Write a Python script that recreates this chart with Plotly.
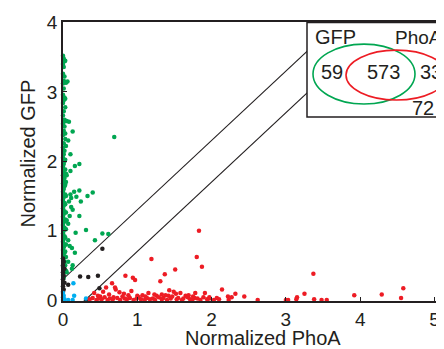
import plotly.graph_objects as go

# ---------------- data ----------------
# GFP-positive (green) points
green_x = [0.00, 0.01, 0.02, 0.00, 0.01, 0.00, 0.02, 0.01, 0.03, 0.00,
           0.01, 0.00, 0.02, 0.01, 0.00, 0.03, 0.01, 0.00, 0.02, 0.01,
           0.00, 0.02, 0.01, 0.00, 0.03, 0.01, 0.00, 0.02, 0.01, 0.00,
           0.02, 0.01, 0.00, 0.03, 0.01, 0.00, 0.02, 0.01, 0.00, 0.02,
           0.01, 0.00, 0.03, 0.01, 0.00, 0.02, 0.01, 0.00, 0.02, 0.01,
           0.00, 0.03, 0.01, 0.00, 0.02, 0.01, 0.00, 0.02, 0.01, 0.00,
           0.03, 0.01, 0.00, 0.02, 0.01, 0.00, 0.02, 0.01, 0.00, 0.02,
           0.01, 0.00, 0.01,
           0.03, 0.04, 0.03, 0.04, 0.03, 0.04, 0.03, 0.04, 0.03, 0.04,
           0.03, 0.04, 0.03, 0.04, 0.03, 0.04, 0.03, 0.04, 0.03, 0.04,
           0.06, 0.05, 0.08, 0.04,
           0.69, 0.13, 0.07, 0.10, 0.22, 0.16, 0.10, 0.05, 0.22, 0.15,
           0.40, 0.33, 0.10, 0.11, 0.18, 0.24, 0.08, 0.11, 0.13, 0.22,
           0.09, 0.05, 0.07, 0.31, 0.17, 0.53, 0.61, 0.43, 0.07, 0.12,
           0.09, 0.16, 0.07, 0.13, 0.12, 0.05]
green_y = [3.52, 3.48, 3.44, 3.40, 3.36, 3.26, 3.22, 3.16, 3.14, 3.12,
           3.05, 2.96, 2.92, 2.88, 2.84, 2.78, 2.72, 2.66, 2.60, 2.57,
           2.54, 2.50, 2.44, 2.38, 2.32, 2.26, 2.20, 2.15, 2.10, 2.05,
           2.00, 1.96, 1.92, 1.88, 1.84, 1.80, 1.76, 1.72, 1.68, 1.64,
           1.60, 1.56, 1.52, 1.48, 1.44, 1.40, 1.36, 1.32, 1.28, 1.24,
           1.20, 1.16, 1.12, 1.08, 1.04, 1.00, 0.96, 0.92, 0.88, 0.84,
           0.80, 0.76, 0.72, 0.68, 0.64, 0.60, 0.56, 0.52, 0.48, 0.44,
           0.40, 0.36, 0.32,
           3.45, 3.13, 2.90, 2.58, 2.40, 2.22, 2.02, 1.82, 1.66, 1.50,
           1.38, 1.26, 1.14, 1.02, 0.90, 0.80, 0.70, 0.62, 0.50, 0.42,
           3.15, 2.58, 2.57, 1.70,
           2.35, 2.43, 2.30, 2.10, 1.96, 1.93, 1.86, 1.80, 1.58, 1.56,
           1.55, 1.50, 1.52, 1.47, 1.49, 1.42, 1.42, 1.34, 1.30, 1.21,
           1.21, 1.15, 1.10, 1.01, 0.97, 0.96, 0.95, 0.86, 0.86, 0.75,
           0.78, 0.68, 0.55, 0.50, 0.45, 0.40]

# intermediate (black) points
black_x = [0.53, 0.23, 0.34, 0.47, 0.07, 0.49, 0.31,
           0.00, 0.01, 0.00, 0.02, 0.00, 0.01, 0.00, 0.02, 0.00, 0.01, 0.00]
black_y = [0.74, 0.34, 0.33, 0.35, 0.22, 0.17, 0.00,
           0.60, 0.55, 0.50, 0.45, 0.40, 0.35, 0.30, 0.25, 0.20, 0.15, 0.12]

# low-signal (cyan) points
cyan_x = [0.14, 0.15, 0.07, 0.13, 0.31, 0.00, 0.01, 0.00, 0.02, 0.00]
cyan_y = [0.24, 0.06, 0.00, 0.00, 0.02, 0.10, 0.06, 0.04, 0.01, 0.00]

# PhoA-positive (red) points
red_x = [1.83, 1.80, 1.87, 1.19, 1.51, 1.37, 1.31, 0.84, 0.94, 0.97,
         0.66, 0.58, 0.71, 2.14, 1.43, 0.92, 1.07, 1.49, 1.58, 1.38,
         1.65, 1.78, 1.91, 2.22, 2.10, 0.42, 0.50, 0.54, 0.70, 0.88,
         1.26, 2.27, 2.32, 2.23, 2.44, 2.62, 3.00, 3.03, 3.14, 3.15,
         3.25, 3.37, 3.38, 3.48, 3.55, 3.92, 4.29, 4.55, 4.58, 5.12,
         0.36, 0.40, 0.45, 0.48, 0.52, 0.56, 0.60, 0.63, 0.67, 0.73,
         0.77, 0.80, 0.83, 0.86, 0.90, 0.95, 0.99, 1.02, 1.05, 1.10,
         1.13, 1.17, 1.21, 1.24, 1.29, 1.33, 1.35, 1.40, 1.45, 1.47,
         1.53, 1.55, 1.60, 1.62, 1.68, 1.71, 1.74, 1.77, 1.81, 1.85,
         1.89, 1.94, 1.97, 2.03, 2.07, 0.62, 0.76, 0.82, 1.00, 1.15,
         1.23, 1.42, 1.52, 1.69, 1.75, 1.97, 0.47, 0.68, 1.11, 1.33]
red_y = [1.00, 0.62, 0.48, 0.59, 0.44, 0.37, 0.27, 0.35, 0.32, 0.29,
         0.24, 0.18, 0.15, 0.15, 0.14, 0.13, 0.07, 0.12, 0.10, 0.07,
         0.06, 0.10, 0.10, 0.05, 0.01, 0.10, 0.05, 0.12, 0.18, 0.07,
         0.06, 0.04, 0.09, 0.00, 0.05, 0.00, 0.00, 0.00, 0.01, 0.04,
         0.09, 0.38, 0.01, 0.00, 0.00, 0.07, 0.08, 0.03, 0.17, 0.68,
         0.01, 0.03, 0.00, 0.02, 0.01, 0.04, 0.00, 0.02, 0.01, 0.03,
         0.00, 0.05, 0.02, 0.01, 0.03, 0.00, 0.02, 0.04, 0.01, 0.00,
         0.03, 0.01, 0.02, 0.00, 0.04, 0.01, 0.03, 0.00, 0.02, 0.05,
         0.01, 0.03, 0.00, 0.02, 0.04, 0.01, 0.00, 0.03, 0.02, 0.00,
         0.04, 0.01, 0.02, 0.00, 0.03, 0.08, 0.11, 0.09, 0.06, 0.10,
         0.08, 0.06, 0.09, 0.07, 0.05, 0.04, 0.06, 0.04, 0.05, 0.08]

# classification boundaries: y = x + offset
boundary_offsets = [0.3, -0.3]
boundary_x = [0.0, 5.2]

# Venn inset
venn_set_names = ["GFP", "PhoA"]
venn_counts = [59, 573, 33, 72]   # GFP only, both, PhoA only, neither

x_ticks = [0, 1, 2, 3, 4, 5]
y_ticks = [0, 1, 2, 3, 4]
x_title = "Normalized PhoA"
y_title = "Normalized GFP"

# ---------------- figure ----------------
FONT = "Liberation Sans, Arial, Helvetica, sans-serif"
TXT = "#231f20"
GREEN = "#00a651"
RED = "#ed1c24"
BLACK = "#231f20"
CYAN = "#00aeef"

fig = go.Figure()

for off in boundary_offsets:
    fig.add_trace(go.Scatter(
        x=boundary_x, y=[v + off for v in boundary_x], mode="lines",
        line=dict(color="#231f20", width=1.1), hoverinfo="skip", showlegend=False))

for xs, ys, col in [(green_x, green_y, GREEN), (black_x, black_y, BLACK),
                    (cyan_x, cyan_y, CYAN), (red_x, red_y, RED)]:
    fig.add_trace(go.Scatter(
        x=xs, y=ys, mode="markers", cliponaxis=False,
        marker=dict(color=col, size=4.5, line=dict(width=0)),
        showlegend=False))

# page-pixel -> data helpers (plot area: x 63..444, y 22..301 on the page)
def px_x(p):
    return (p - 63) / 74.3

def px_y(p):
    return (300 - p) / 69.4

shapes = [
    dict(type="rect", xref="x", yref="y", x0=px_x(307), x1=6.0, y0=px_y(117), y1=px_y(22.5),
         line=dict(color="#231f20", width=1.5), fillcolor="white", layer="above"),
    dict(type="circle", xref="x", yref="y", x0=px_x(313), x1=px_x(415), y0=px_y(104), y1=px_y(44),
         line=dict(color=GREEN, width=1.6), layer="above"),
    dict(type="circle", xref="x", yref="y", x0=px_x(346), x1=px_x(447), y0=px_y(100), y1=px_y(50),
         line=dict(color=RED, width=1.6), layer="above"),
]

annotations = [
    dict(x=px_x(335), y=px_y(37), text=venn_set_names[0], xanchor="center", size=20),
    dict(x=px_x(443.5), y=px_y(37), text=venn_set_names[1], xanchor="right", size=19),
    dict(x=px_x(332), y=px_y(72), text=str(venn_counts[0]), xanchor="center", size=20),
    dict(x=px_x(383), y=px_y(72), text=str(venn_counts[1]), xanchor="center", size=20),
    dict(x=px_x(431), y=px_y(72), text=str(venn_counts[2]), xanchor="center", size=20),
    dict(x=px_x(423), y=px_y(108), text=str(venn_counts[3]), xanchor="center", size=20),
]
for a in annotations:
    s = a.pop("size")
    a.update(xref="x", yref="y", yanchor="middle", showarrow=False,
             font=dict(family=FONT, size=s, color=TXT))

annotations.append(dict(x=px_x(263), y=-(338 - 301) / 279, xref="x", yref="paper",
                        text=x_title, showarrow=False, xanchor="center", yanchor="middle",
                        font=dict(family=FONT, size=20, color=TXT)))
annotations.append(dict(x=(27 - 63) / 381, y=(301 - 153.5) / 279, xref="paper", yref="paper",
                        text=y_title, textangle=-90, showarrow=False,
                        xanchor="center", yanchor="middle",
                        font=dict(family=FONT, size=20, color=TXT)))

# the page body has an 8px default margin, so the figure is 8px smaller
fig.update_layout(
    width=436, height=341,
    margin=dict(l=55, r=0, t=14, b=48),
    paper_bgcolor="white", plot_bgcolor="white",
    shapes=shapes, annotations=annotations,
    font=dict(family=FONT, size=19, color=TXT),
    xaxis=dict(range=[0, 381 / 74.3], tickvals=x_ticks, ticks="inside", ticklen=4,
               tickwidth=1, tickcolor="#231f20", showline=True, linecolor="#231f20",
               linewidth=1.5, mirror=True, showgrid=False, zeroline=False,
               tickfont=dict(family=FONT, size=19, color=TXT)),
    yaxis=dict(range=[-1 / 69.4, 4 + 0.5 / 69.4], tickvals=y_ticks, ticks="inside", ticklen=4,
               tickwidth=1, tickcolor="#231f20", showline=True, linecolor="#231f20",
               linewidth=1.5, mirror=False, showgrid=False, zeroline=False,
               tickfont=dict(family=FONT, size=19, color=TXT)),
)

fig.write_html("out.html")
